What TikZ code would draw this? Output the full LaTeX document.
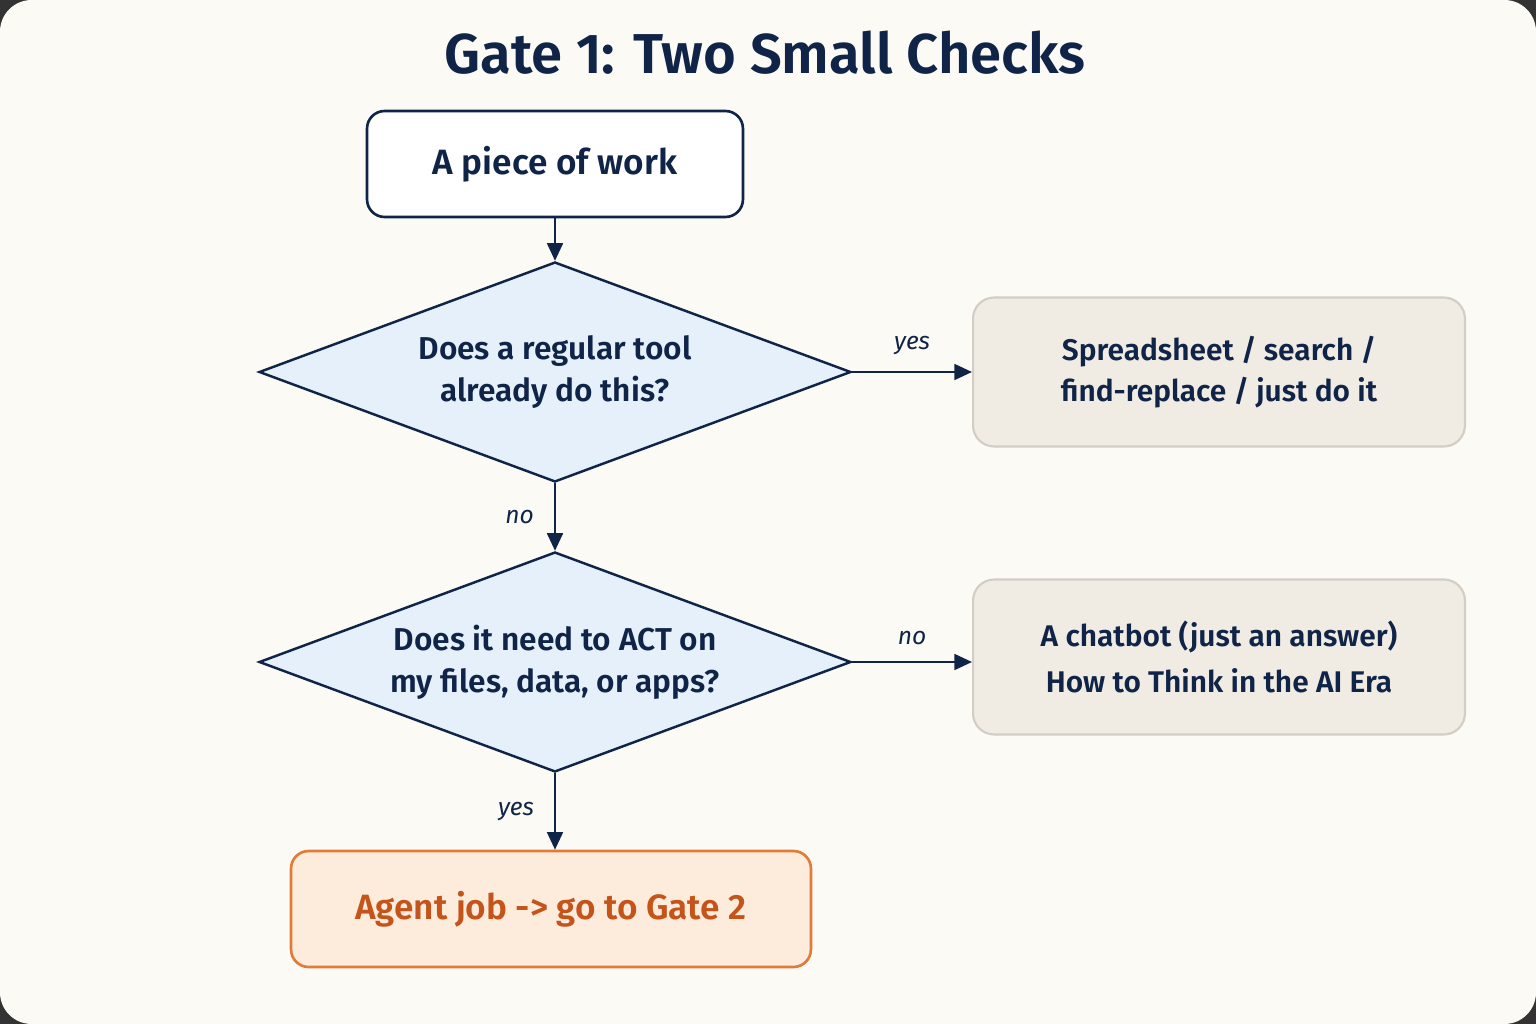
\documentclass[tikz,border=0pt]{standalone}
\usepackage{fontspec}
\setmainfont{Fira Sans}[BoldFont={Fira Sans SemiBold},ItalicFont={Fira Sans Italic}]
\usetikzlibrary{shapes.geometric,arrows.meta}
\definecolor{navy}{HTML}{102448}
\definecolor{bg}{HTML}{FCFAF4}
\definecolor{dfill}{HTML}{E6F0FB}
\definecolor{gfill}{HTML}{F0EBE3}
\definecolor{gline}{HTML}{D2CDC5}
\definecolor{ofill}{HTML}{FDEBDC}
\definecolor{oline}{HTML}{E07B39}
\definecolor{otext}{HTML}{C4541A}
\begin{document}
\begin{tikzpicture}[x=0.02cm,y=-0.02cm,
  box/.style={draw=navy,line width=1.5pt,rounded corners=10pt,fill=white,minimum width=7.52cm,minimum height=2.12cm,font=\fontsize{20}{24}\selectfont\bfseries,text=navy},
  dia/.style={diamond,aspect=2.69,draw=navy,line width=1.4pt,fill=dfill,inner sep=0pt,minimum width=11.84cm,minimum height=4.4cm,align=center,font=\fontsize{18}{24}\selectfont\bfseries,text=navy},
  gbox/.style={draw=gline,line width=1.2pt,rounded corners=12pt,fill=gfill,minimum width=9.84cm,align=center,font=\fontsize{17}{23}\selectfont\bfseries,text=navy},
  arr/.style={draw=navy,line width=1.3pt,-{Triangle[length=10pt,width=9pt]}},
  lab/.style={font=\fontsize{14}{16}\selectfont\itshape,text=navy}]
\fill[black!80] (0,0) rectangle (1536,1024);
\fill[bg,rounded corners=18pt] (0,0) rectangle (1536,1024);
\useasboundingbox (0,0) rectangle (1536,1024);
\node[font=\fontsize{32}{36}\selectfont\bfseries,text=navy] (title) at (765,53) {Gate 1: Two Small Checks};
\node[box] (start) at (555,164) {A piece of work};
\node[dia] (d1) at (555,372) {Does a regular tool\\already do this?};
\node[dia] (d2) at (555,662) {Does it need to ACT on\\my files, data, or apps?};
\node[gbox,minimum height=2.98cm] (r1) at (1219,372) {Spreadsheet / search /\\find-replace / just do it};
\node[gbox,minimum height=3.1cm,font=\fontsize{17}{26}\selectfont\bfseries] (r2) at (1219,657) {A chatbot (just an answer)\\How to Think in the AI Era};
\node[box,draw=oline,fill=ofill,text=otext,minimum width=10.4cm,minimum height=2.32cm] (agent) at (551,909) {Agent job -> go to Gate 2};
\draw[arr] (start) -- (d1);
\draw[arr] (d1.east) -- (r1.west) node[lab,midway,above=6pt] {yes};
\draw[arr] (d1.south) -- (d2.north) node[lab,midway,left=8pt] {no};
\draw[arr] (d2.east) -- (r2.west|-d2.east) node[lab,midway,above=6pt] {no};
\draw[arr] (d2.south) -- (d2.south|-agent.north) node[lab,midway,left=8pt] {yes};
\end{tikzpicture}
\end{document}
